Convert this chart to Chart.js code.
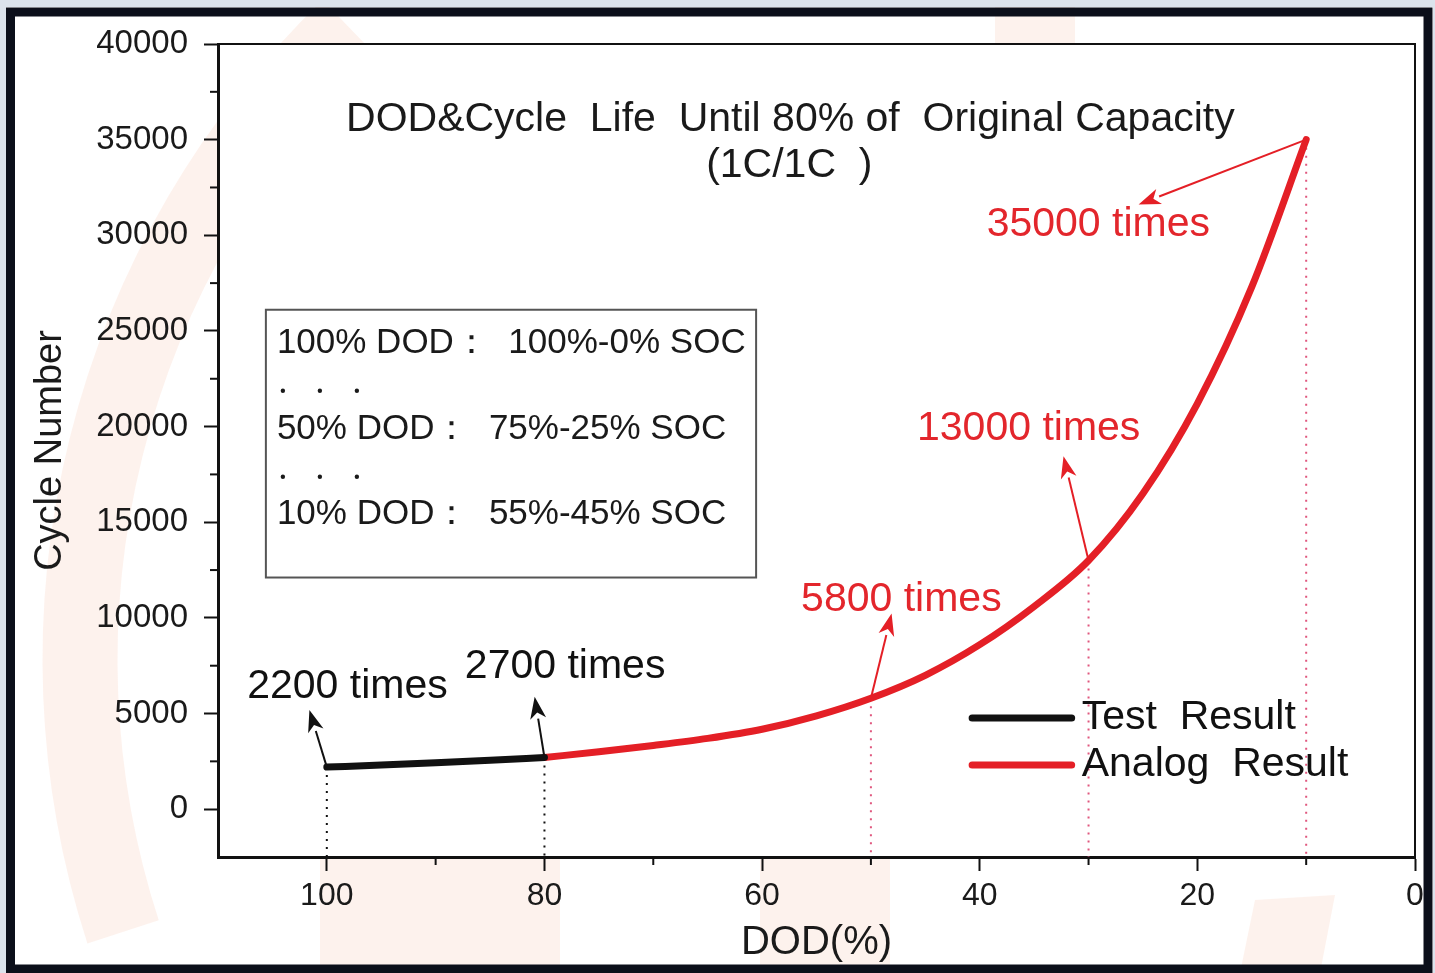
<!DOCTYPE html>
<html><head><meta charset="utf-8">
<script src="https://cdn.jsdelivr.net/npm/chart.js@4.4.0/dist/chart.umd.min.js"></script>
<style>html,body{margin:0;padding:0;background:#fff;overflow:hidden}#wrap{width:1435px;height:973px;position:relative}</style>
</head><body><div id="wrap"><canvas id="c" width="1435" height="973" style="width:1435px;height:973px;display:block"></canvas></div>
<script>
// ---- data ----
const testDOD = [100, 95, 90, 85, 80];
const testCycles = [2200, 2310, 2430, 2560, 2700];
const analogDOD = [80, 75, 70, 65, 60, 55, 50, 45, 40, 35, 30, 25, 20, 15, 10];
const analogCycles = [2700, 3000, 3330, 3700, 4180, 4880, 5800, 7000, 8600, 10600, 13000, 16500, 21200, 27300, 35000];
const markDOD = [100, 80, 50, 30, 10];
const markCycles = [2200, 2700, 5800, 13000, 35000];
const markLabels = ['2200 times', '2700 times', '5800 times', '13000 times', '35000 times'];
const xTicks = [100, 80, 60, 40, 20, 0];
const xMinorTicks = [90, 70, 50, 30, 10];
const yTicks = [0, 5000, 10000, 15000, 20000, 25000, 30000, 35000, 40000];
const yMinorTicks = [2500, 7500, 12500, 17500, 22500, 27500, 32500, 37500];
const seriesNames = ['Test  Result', 'Analog  Result'];
const titleLines = ['DOD&Cycle  Life  Until 80% of  Original Capacity', '(1C/1C  )'];
const insetLines = ['100% DOD\uFF1A  100%-0% SOC', '.    .    .', '50% DOD\uFF1A  75%-25% SOC', '.    .    .', '10% DOD\uFF1A  55%-45% SOC'];

// ---- styles ----
const F = "'Liberation Sans', Arial, sans-serif";
const RED = '#e41f26';
const RED_TXT = '#e3262c';
const PINK = '#e0577e';
const BLACK = '#111';
const WM = 'rgba(248,206,184,0.26)';

const dropSets = markDOD.map((d, i) => ({
  data: [{x: d, y: markCycles[i]}, {x: d, y: -2500}],
  showLine: true, pointRadius: 0, borderWidth: 2,
  borderColor: i < 2 ? BLACK : PINK, borderDash: [2, 6], order: 5
}));

// annotation layout (data coordinates of label centre and arrow tip)
const annLayout = [
  {lx: 98.1, ly: 6396, tx: 101.6, ty: 5190, color: BLACK, head: BLACK},
  {lx: 78.1, ly: 7444, tx: 80.9, ty: 5872, color: BLACK, head: BLACK},
  {lx: 47.2, ly: 10957, tx: 48.1, ty: 10223, color: RED_TXT, head: RED},
  {lx: 35.5, ly: 19869, tx: 32.3, ty: 18453, color: RED_TXT, head: RED},
  {lx: 29.1, ly: 30564, tx: 25.4, ty: 31612, color: RED_TXT, head: RED}
];

function arrow(ctx, x1, y1, x2, y2, color, lw, hl, hw) {
  const a = Math.atan2(y2 - y1, x2 - x1);
  const bx = x2 - hl * Math.cos(a), by = y2 - hl * Math.sin(a);
  ctx.strokeStyle = color; ctx.fillStyle = color; ctx.lineWidth = lw;
  ctx.beginPath(); ctx.moveTo(x1, y1); ctx.lineTo(bx, by); ctx.stroke();
  const nx = x2 - hl * 0.72 * Math.cos(a), ny = y2 - hl * 0.72 * Math.sin(a);
  ctx.beginPath(); ctx.moveTo(x2, y2);
  ctx.lineTo(bx + hw * Math.sin(a), by - hw * Math.cos(a));
  ctx.lineTo(nx, ny);
  ctx.lineTo(bx - hw * Math.sin(a), by + hw * Math.cos(a));
  ctx.closePath(); ctx.fill();
}

const deco = {
  id: 'deco',
  beforeDraw(chart) {
    const {ctx, chartArea: a} = chart;
    ctx.save();
    ctx.fillStyle = '#fff'; ctx.fillRect(0, 0, chart.width, chart.height);
    // faint watermark
    ctx.strokeStyle = WM; ctx.lineWidth = 75;
    ctx.beginPath(); ctx.arc(960, 660, 880, 162 * Math.PI / 180, 226 * Math.PI / 180); ctx.stroke();
    ctx.fillStyle = WM;
    ctx.fillRect(320, a.bottom, 240, 120);
    ctx.fillRect(760, a.bottom, 130, 120);
    ctx.fillRect(995, 0, 80, a.top);
    ctx.beginPath(); ctx.moveTo(1255, 900); ctx.lineTo(1335, 895); ctx.lineTo(1320, 973); ctx.lineTo(1240, 973); ctx.closePath(); ctx.fill();
    ctx.fillStyle = '#fff'; ctx.fillRect(a.left, a.top, a.right - a.left, a.bottom - a.top);
    ctx.restore();
  },
  afterDraw(chart) {
    const {ctx, chartArea: a, scales: {x, y}} = chart;
    ctx.save();
    // top/right plot border
    ctx.strokeStyle = BLACK; ctx.lineWidth = 2;
    ctx.beginPath(); ctx.moveTo(a.left, a.top); ctx.lineTo(a.right, a.top); ctx.lineTo(a.right, a.bottom); ctx.stroke();
    // minor ticks
    ctx.lineWidth = 2;
    xMinorTicks.forEach(v => { const px = x.getPixelForValue(v); ctx.beginPath(); ctx.moveTo(px, a.bottom); ctx.lineTo(px, a.bottom + 8); ctx.stroke(); });
    yMinorTicks.forEach(v => { const py = y.getPixelForValue(v); ctx.beginPath(); ctx.moveTo(a.left, py); ctx.lineTo(a.left - 8, py); ctx.stroke(); });
    // title
    ctx.fillStyle = '#1a1a1a'; ctx.textAlign = 'center'; ctx.textBaseline = 'middle';
    ctx.font = `41px ${F}`;
    ctx.fillText(titleLines[0], x.getPixelForValue(57.4), y.getPixelForValue(36060));
    ctx.fillText(titleLines[1], x.getPixelForValue(57.5), y.getPixelForValue(33640));
    // inset box
    const bl = x.getPixelForValue(105.6), br = x.getPixelForValue(60.55);
    const bt = y.getPixelForValue(26108), bb = y.getPixelForValue(12110);
    ctx.strokeStyle = '#555'; ctx.lineWidth = 2;
    ctx.strokeRect(bl, bt, br - bl, bb - bt);
    ctx.textAlign = 'left'; ctx.font = `35px ${F}`; ctx.fillStyle = '#1a1a1a';
    const rowsY = [343, 382, 429, 468, 514];
    insetLines.forEach((t, i) => {
      const yy = bt + (rowsY[i] - 309);
      if (t.startsWith('.')) {
        [283, 320, 357].forEach(dx => { ctx.beginPath(); ctx.arc(bl + (dx - 266), yy + 8, 2.2, 0, Math.PI * 2); ctx.fill(); });
      } else ctx.fillText(t, bl + 11, yy);
    });
    // annotations
    annLayout.forEach((L, i) => {
      const px = x.getPixelForValue(markDOD[i]), py = y.getPixelForValue(markCycles[i]);
      arrow(ctx, px, py, x.getPixelForValue(L.tx), y.getPixelForValue(L.ty), L.head, 2, 22, 8);
      ctx.fillStyle = L.color; ctx.textAlign = 'center'; ctx.textBaseline = 'middle';
      ctx.font = `41px ${F}`;
      ctx.fillText(markLabels[i], x.getPixelForValue(L.lx), y.getPixelForValue(L.ly));
    });
    // legend
    const lx1 = x.getPixelForValue(40.7), lx2 = x.getPixelForValue(31.55);
    [[4771, BLACK], [2307, RED]].forEach(([v, c], i) => {
      const py = y.getPixelForValue(v);
      ctx.strokeStyle = c; ctx.lineWidth = 7; ctx.lineCap = 'round';
      ctx.beginPath(); ctx.moveTo(lx1, py); ctx.lineTo(lx2, py); ctx.stroke();
      ctx.fillStyle = '#111'; ctx.textAlign = 'left'; ctx.textBaseline = 'middle'; ctx.font = `41px ${F}`;
      ctx.fillText(seriesNames[i], lx2 + 10, py);
    });
    ctx.lineCap = 'butt';
    // outer frame
    ctx.fillStyle = '#dbe3ec';
    ctx.fillRect(0, 0, chart.width, 7); ctx.fillRect(0, 0, 6, chart.height); ctx.fillRect(chart.width - 2, 0, 2, chart.height);
    ctx.strokeStyle = '#0b0f1a'; ctx.lineWidth = 9;
    ctx.strokeRect(10.5, 12, 1417.5, 957);
    ctx.restore();
  }
};

new Chart(document.getElementById('c'), {
  type: 'scatter',
  data: {
    datasets: [
      {label: seriesNames[0], data: testDOD.map((d, i) => ({x: d, y: testCycles[i]})), showLine: true, pointRadius: 0,
       borderColor: BLACK, borderWidth: 7, cubicInterpolationMode: 'monotone', borderCapStyle: 'round', order: 1},
      {label: seriesNames[1], data: analogDOD.map((d, i) => ({x: d, y: analogCycles[i]})), showLine: true, pointRadius: 0,
       borderColor: RED, borderWidth: 7, cubicInterpolationMode: 'monotone', borderCapStyle: 'round', order: 2},
      ...dropSets
    ]
  },
  options: {
    responsive: false, maintainAspectRatio: false, animation: false, devicePixelRatio: 1,
    layout: {padding: {top: 44, right: 20, left: 0, bottom: 0}},
    plugins: {legend: {display: false}, tooltip: {enabled: false}},
    scales: {
      x: {
        type: 'linear', reverse: true, min: 0, max: 110,
        afterBuildTicks: s => { s.ticks = xTicks.map(v => ({value: v})); },
        afterFit: s => { s.height = 116; },
        grid: {drawOnChartArea: false, drawTicks: true, tickLength: 14, tickWidth: 2, tickColor: BLACK},
        border: {display: true, color: BLACK, width: 3},
        ticks: {font: {family: F, size: 32}, color: '#1a1a1a', padding: 6, maxRotation: 0, autoSkip: false,
                callback: v => String(v)},
        title: {display: true, text: 'DOD(%)', font: {family: F, size: 40}, color: '#1a1a1a', padding: {top: 0, bottom: 6}}
      },
      y: {
        type: 'linear', min: -2500, max: 40000,
        afterBuildTicks: s => { s.ticks = yTicks.map(v => ({value: v})); },
        afterFit: s => { s.width = 218; },
        grid: {drawOnChartArea: false, drawTicks: true, tickLength: 14, tickWidth: 2, tickColor: BLACK},
        border: {display: true, color: BLACK, width: 3},
        ticks: {font: {family: F, size: 33}, color: '#1a1a1a', padding: 16, autoSkip: false,
                callback: v => String(v)},
        title: {display: true, text: 'Cycle Number', font: {family: F, size: 38}, color: '#1a1a1a', padding: {top: 28, bottom: 0}}
      }
    }
  },
  plugins: [deco]
});
</script></body></html>
